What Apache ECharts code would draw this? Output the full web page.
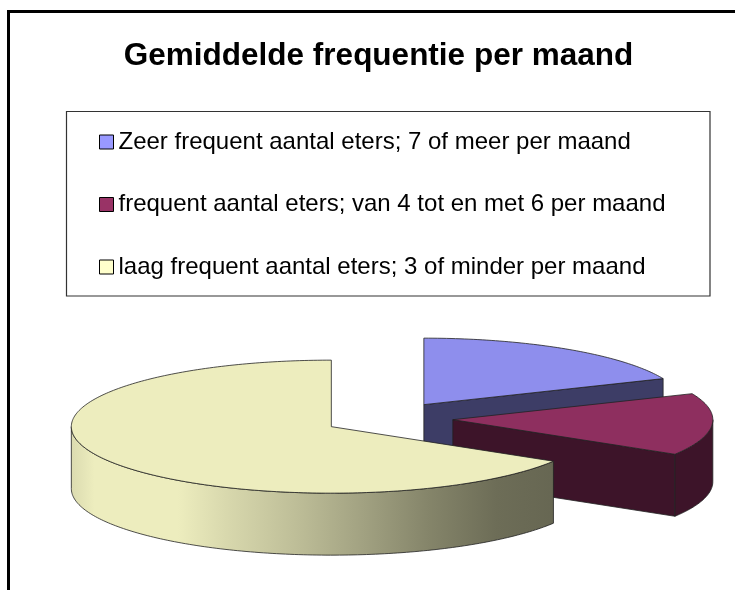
<!DOCTYPE html>
<html>
<head>
<meta charset="utf-8">
<script src="https://cdn.jsdelivr.net/npm/echarts@6/dist/echarts.min.js"></script>
<style>
html,body{margin:0;padding:0;background:#fff;}
#c{width:735px;height:590px;}
</style>
</head>
<body>
<div id="c"></div>
<script>
// ---- data ----
const titleText = 'Gemiddelde frequentie per maand';
const categories = [
  'Zeer frequent aantal eters; 7 of meer per maand',
  'frequent aantal eters; van 4 tot en met 6 per maand',
  'laag frequent aantal eters; 3 of minder per maand'
];
const values = [18.6, 15.1, 66.3];
const colors = ['#9999FF', '#993366', '#FFFFCC'];

// ---- layout of the 3D pie ----
const CX = 388, CY = 418.5, RX = 260, RY = 66.5, H = 62, EXPLODE = 65;
const OUTLINE = '#222';
const FONT = "'Liberation Sans', Arial, sans-serif";

const total = values.reduce((s, v) => s + v, 0);

function shade(hex, f) {
  const n = parseInt(hex.slice(1), 16);
  const r = (n >> 16) & 255, g = (n >> 8) & 255, b = n & 255;
  return 'rgb(' + Math.round(r * f) + ',' + Math.round(g * f) + ',' + Math.round(b * f) + ')';
}
function sideGradient(hex) {
  const t = 0.93;
  const stops = [[0, 0.92], [0.05, 1.0], [0.22, 1.0], [0.32, 0.91], [0.46, 0.80],
                 [0.60, 0.68], [0.73, 0.56], [0.87, 0.46], [1, 0.43]];
  return {
    type: 'linear', x: 70, y: 0, x2: 560, y2: 0, global: true,
    colorStops: stops.map(s => ({ offset: s[0], color: shade(hex, s[1] * t) }))
  };
}

function renderSlice(params, api) {
  const i = params.seriesIndex;
  const v = api.value(0);
  let before = 0;
  for (let k = 0; k < i; k++) before += values[k];
  const a1 = before / total * 360, a2 = (before + v) / total * 360;
  const m = (a1 + a2) / 2 * Math.PI / 180;
  const cx = CX + EXPLODE * Math.sin(m);
  const cy = CY - EXPLODE * (RY / RX) * Math.cos(m);
  const P = (deg, dz) => {
    const r = deg * Math.PI / 180;
    return [cx + RX * Math.sin(r), cy - RY * Math.cos(r) + dz];
  };
  const arc = (s, e, dz) => {
    const pts = [];
    const n = Math.max(2, Math.ceil(Math.abs(e - s)));
    for (let j = 0; j <= n; j++) pts.push(P(s + (e - s) * j / n, dz));
    return pts;
  };
  const ls = { stroke: OUTLINE, lineWidth: 0.8, lineJoin: 'round' };
  const children = [];
  const cut = deg => ({
    type: 'polygon',
    shape: { points: [[cx, cy], P(deg, 0), P(deg, H), [cx, cy + H]] },
    style: Object.assign({ fill: shade(colors[i], 0.40) }, ls)
  });
  if (Math.sin(a1 * Math.PI / 180) < -1e-6) children.push(cut(a1));
  if (Math.sin(a2 * Math.PI / 180) > 1e-6) children.push(cut(a2));
  const s = Math.max(a1, 90), e = Math.min(a2, 270);
  if (e > s) {
    children.push({
      type: 'polygon',
      shape: { points: arc(s, e, 0).concat(arc(e, s, H)) },
      style: Object.assign({ fill: sideGradient(colors[i]) }, ls)
    });
  }
  children.push({
    type: 'polygon',
    shape: { points: [[cx, cy]].concat(arc(a1, a2, 0)) },
    style: Object.assign({ fill: shade(colors[i], 0.93) }, ls)
  });
  return { type: 'group', children: children };
}

const chart = echarts.init(document.getElementById('c'), null, { renderer: 'canvas' });
chart.setOption({
  animation: false,
  backgroundColor: '#fff',
  title: {
    text: titleText,
    left: 378.5,
    top: 40,
    textAlign: 'center',
    padding: 0,
    textStyle: { fontFamily: FONT, fontSize: 31.5, fontWeight: 'bold', color: '#000' }
  },
  legend: {
    orient: 'vertical',
    left: 99,
    top: 130,
    padding: 0,
    itemGap: 38.5,
    itemWidth: 14,
    itemHeight: 14,
    icon: 'rect',
    selectedMode: false,
    itemStyle: { borderColor: '#000', borderWidth: 1 },
    textStyle: { fontFamily: FONT, fontSize: 24, lineHeight: 24, color: '#000' },
    data: categories.map((c, i) => ({ name: c, itemStyle: { color: colors[i] } }))
  },
  graphic: [
    { type: 'line', shape: { x1: 8.5, y1: 11.5, x2: 735, y2: 11.5 }, style: { stroke: '#000', lineWidth: 3 } },
    { type: 'line', shape: { x1: 8.5, y1: 10, x2: 8.5, y2: 590 }, style: { stroke: '#000', lineWidth: 3 } },
    { type: 'rect', shape: { x: 66.5, y: 111.5, width: 643.5, height: 184.5 },
      style: { fill: 'none', stroke: '#333', lineWidth: 1.2 } }
  ],
  series: categories.map((c, i) => ({
    type: 'custom',
    name: c,
    coordinateSystem: 'none',
    z: 2 + i,
    silent: true,
    itemStyle: { color: colors[i] },
    renderItem: renderSlice,
    data: [[values[i]]]
  }))
});
</script>
</body>
</html>
